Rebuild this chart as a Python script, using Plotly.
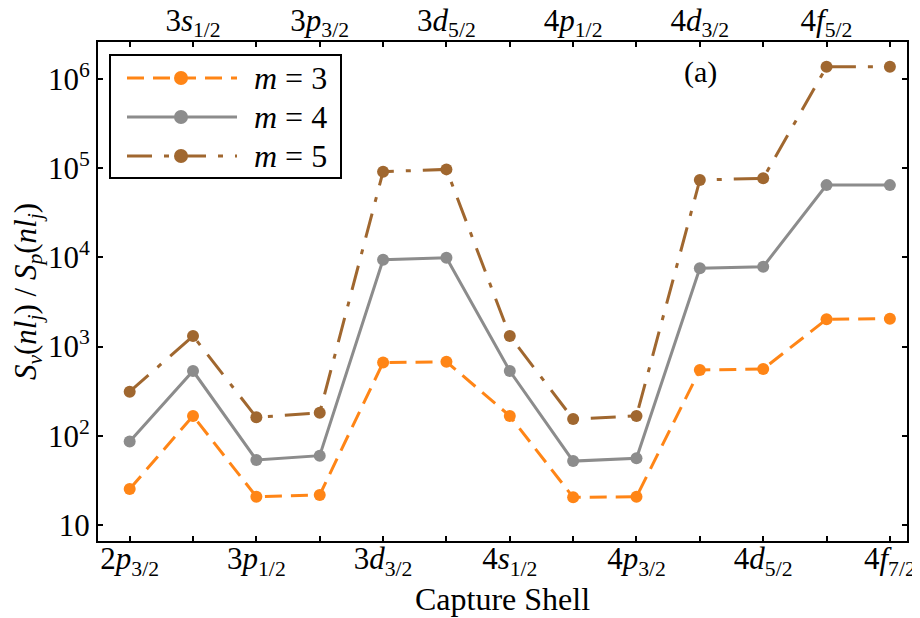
import plotly.graph_objects as go

x_idx = list(range(13))
bottom_vals = [0, 2, 4, 6, 8, 10, 12]
bottom_text = ["2<i>p</i><sub>3/2</sub>", "3<i>p</i><sub>1/2</sub>", "3<i>d</i><sub>3/2</sub>",
               "4<i>s</i><sub>1/2</sub>", "4<i>p</i><sub>3/2</sub>", "4<i>d</i><sub>5/2</sub>",
               "4<i>f</i><sub>7/2</sub>"]
top_vals = [1, 3, 5, 7, 9, 11]
top_text = ["3<i>s</i><sub>1/2</sub>", "3<i>p</i><sub>3/2</sub>", "3<i>d</i><sub>5/2</sub>",
            "4<i>p</i><sub>1/2</sub>", "4<i>d</i><sub>3/2</sub>", "4<i>f</i><sub>5/2</sub>"]

m3 = [25.3, 167, 20.7, 21.7, 661, 676, 167, 20.4, 20.7, 547, 561, 2020, 2056]
m4 = [86, 532, 53.6, 59.8, 9420, 9900, 532, 52, 56, 7550, 7870, 64600, 64600]
m5 = [312, 1315, 161, 181, 91400, 97000, 1315, 154, 167, 73800, 77100, 1370000, 1370000]

y_tickvals = [10, 100, 1000, 10000, 100000, 1000000]
y_ticktext = ["10", "10<sup>2</sup>", "10<sup>3</sup>", "10<sup>4</sup>", "10<sup>5</sup>", "10<sup>6</sup>"]

series = [
    ("<i>m</i> = 3", m3, "#FF8516", "17px,9px"),
    ("<i>m</i> = 4", m4, "#8C8C8C", "solid"),
    ("<i>m</i> = 5", m5, "#A0672F", "25px,12px,5px,12px"),
]

FONT = "Liberation Serif, Times New Roman, serif"

fig = go.Figure()
for name, vals, col, dash in series:
    fig.add_trace(go.Scatter(x=x_idx, y=vals, mode="lines+markers", name=name,
                             line=dict(color=col, width=3, dash=dash),
                             marker=dict(color=col, size=12), showlegend=False))

# invisible trace to anchor the top axis
fig.add_trace(go.Scatter(x=[0], y=[10], xaxis="x2", mode="markers",
                         marker=dict(opacity=0), showlegend=False, hoverinfo="skip"))

xr = [-0.5, 12.27]
tick_common = dict(ticks="inside", ticklen=5, tickwidth=1.5, tickcolor="black",
                   showgrid=False, zeroline=False, automargin=False)
minor = dict(ticks="inside", ticklen=5, tickwidth=1.5, tickcolor="black", dtick=1, tick0=0, showgrid=False)

fig.update_layout(
    width=912, height=610,
    margin=dict(l=90, r=13, t=34, b=77, autoexpand=False),
    paper_bgcolor="white", plot_bgcolor="white",
    font=dict(family=FONT, size=31, color="black"),
    xaxis=dict(range=xr, tickmode="array", tickvals=bottom_vals, ticktext=bottom_text,
               minor=minor, showline=True, linewidth=2, linecolor="black", mirror=True,
               ticklabelstandoff=-11,
               title=dict(text="Capture Shell", font=dict(size=32), standoff=4),
               **tick_common),
    xaxis2=dict(range=xr, overlaying="x", side="top", tickmode="array", tickvals=top_vals,
                ticktext=top_text, minor=minor, showline=True, linewidth=2, linecolor="black",
                ticklabelstandoff=-3, **tick_common),
    yaxis=dict(type="log", range=[0.82, 6.415], tickmode="array", tickvals=y_tickvals,
               ticktext=y_ticktext, showline=True, linewidth=2, linecolor="black", mirror="ticks",
               title=dict(text="<i>S</i><sub><i>v</i></sub>(<i>nl</i><sub><i>j</i></sub>) / <i>S</i><sub><i>p</i></sub>(<i>nl</i><sub><i>j</i></sub>)",
                          font=dict(size=31), standoff=4),
               **tick_common),
)

# custom legend (positions in page pixels of the plot area: 98..907 x, 42..541 y)
W, H = 809.0, 499.0
def px(xp):
    return (xp - 98) / W
def py(yp):
    return (541 - yp) / H

fig.add_shape(type="rect", xref="paper", yref="paper", x0=px(110), x1=px(341), y0=py(178), y1=py(55),
              line=dict(color="black", width=2), fillcolor="white", layer="above")
rows = [78, 117, 156]
for (name, vals, col, dash), ry in zip(series, rows):
    fig.add_shape(type="line", xref="paper", yref="paper", x0=px(127), x1=px(237), y0=py(ry), y1=py(ry),
                  line=dict(color=col, width=3, dash=dash), layer="above")
    fig.add_shape(type="circle", xref="paper", yref="paper", xsizemode="pixel", ysizemode="pixel",
                  xanchor=px(181), yanchor=py(ry), x0=-7, x1=7, y0=-7, y1=7,
                  fillcolor=col, line=dict(color=col, width=0), layer="above")
    fig.add_annotation(xref="paper", yref="paper", x=px(252), y=py(ry), text=name, showarrow=False,
                       xanchor="left", yanchor="middle", font=dict(size=32))

fig.add_annotation(xref="paper", yref="paper", x=px(700), y=py(72), text="(a)", showarrow=False,
                   xanchor="center", yanchor="middle", font=dict(size=30))

fig.write_html("out.html")
